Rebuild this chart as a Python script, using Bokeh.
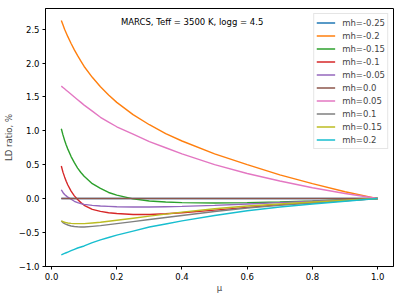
from bokeh.plotting import figure
from bokeh.models import Range1d, Legend, LegendItem, Label, CustomJSTickFormatter, FixedTicker
from bokeh.embed import file_html
from bokeh.resources import INLINE

mu = [0.03, 0.035, 0.04, 0.045, 0.05, 0.06, 0.07, 0.08, 0.09, 0.1, 0.125, 0.15, 0.175,
      0.2, 0.25, 0.3, 0.35, 0.4, 0.5, 0.6, 0.7, 0.8, 0.9, 1.0]

mh_labels = ["mh=-0.25", "mh=-0.2", "mh=-0.15", "mh=-0.1", "mh=-0.05",
             "mh=0.0", "mh=0.05", "mh=0.1", "mh=0.15", "mh=0.2"]

mh_m025 = [0.0] * 24
mh_m020 = [2.63, 2.565, 2.50, 2.445, 2.39, 2.29, 2.195, 2.11, 2.03, 1.95, 1.79, 1.65, 1.53,
           1.42, 1.24, 1.09, 0.96, 0.85, 0.66, 0.50, 0.35, 0.22, 0.10, 0.0]
mh_m015 = [1.03, 0.94, 0.86, 0.79, 0.73, 0.62, 0.53, 0.45, 0.385, 0.33, 0.22, 0.15, 0.09,
           0.05, -0.005, -0.035, -0.05, -0.06, -0.065, -0.06, -0.05, -0.035, -0.018, 0.0]
mh_m010 = [0.48, 0.39, 0.32, 0.255, 0.20, 0.11, 0.04, -0.015, -0.06, -0.10, -0.16, -0.19, -0.21,
           -0.22, -0.235, -0.235, -0.225, -0.21, -0.17, -0.13, -0.09, -0.06, -0.03, 0.0]
mh_m005 = [0.13, 0.09, 0.06, 0.04, 0.02, -0.01, -0.04, -0.06, -0.075, -0.085, -0.10, -0.11, -0.115,
           -0.12, -0.125, -0.125, -0.12, -0.115, -0.10, -0.08, -0.06, -0.04, -0.02, 0.0]
mh_p000 = [0.0] * 24
mh_p005 = [1.66, 1.64, 1.62, 1.60, 1.58, 1.54, 1.50, 1.46, 1.42, 1.38, 1.29, 1.20, 1.13,
           1.06, 0.95, 0.84, 0.75, 0.66, 0.50, 0.37, 0.26, 0.16, 0.075, 0.0]
mh_p010 = [-0.33, -0.355, -0.37, -0.38, -0.39, -0.405, -0.412, -0.417, -0.42, -0.42, -0.41, -0.40, -0.385,
           -0.37, -0.34, -0.31, -0.28, -0.25, -0.19, -0.14, -0.10, -0.065, -0.032, 0.0]
mh_p015 = [-0.33, -0.34, -0.35, -0.355, -0.36, -0.367, -0.37, -0.37, -0.37, -0.37, -0.36, -0.35, -0.335,
           -0.32, -0.29, -0.26, -0.23, -0.20, -0.15, -0.11, -0.08, -0.05, -0.025, 0.0]
mh_p020 = [-0.83, -0.82, -0.81, -0.80, -0.79, -0.77, -0.75, -0.73, -0.715, -0.70, -0.65, -0.61, -0.575,
           -0.54, -0.48, -0.42, -0.375, -0.33, -0.25, -0.18, -0.125, -0.08, -0.04, 0.0]

series = [mh_m025, mh_m020, mh_m015, mh_m010, mh_m005, mh_p000, mh_p005, mh_p010, mh_p015, mh_p020]
colors = ["#1f77b4", "#ff7f0e", "#2ca02c", "#d62728", "#9467bd",
          "#8c564b", "#e377c2", "#7f7f7f", "#bcbd22", "#17becf"]

x_ticks = [0.0, 0.2, 0.4, 0.6, 0.8, 1.0]
y_ticks = [-1.0, -0.5, 0.0, 0.5, 1.0, 1.5, 2.0, 2.5]

FONT = "DejaVu Sans"
FS = "8.5px"

p = figure(frame_width=348, frame_height=258, output_backend="svg", toolbar_location=None,
           x_range=Range1d(-0.0185, 1.0485), y_range=Range1d(-1.003, 2.806),
           min_border_left=45, min_border_right=1, min_border_top=8, min_border_bottom=28)

items = []
for lab, ys, c in zip(mh_labels, series, colors):
    r = p.line(mu, ys, line_color=c, line_width=1.4)
    items.append(LegendItem(label=lab, renderers=[r]))

legend = Legend(items=items, location="top_right")
legend.label_text_font = FONT
legend.label_text_font_size = FS
legend.label_height = 13
legend.glyph_height = 13
legend.glyph_width = 19
legend.label_standoff = 7
legend.spacing = 0
legend.padding = 2
legend.margin = 5
legend.border_line_color = "#cccccc"
legend.background_fill_alpha = 0.8
p.add_layout(legend)

p.add_layout(Label(x=0.431, y=2.60, text="MARCS, Teff = 3500 K, logg = 4.5",
                   text_font=FONT, text_font_size=FS, text_align="center",
                   text_baseline="middle", text_color="#000000"))

p.xgrid.visible = False
p.ygrid.visible = False
p.outline_line_color = "#000000"
p.outline_line_width = 1
p.outline_line_alpha = 1

fmt = CustomJSTickFormatter(code="return tick.toFixed(1).replace('-', '\u2212');")
for ax, ticks in ((p.xaxis[0], x_ticks), (p.yaxis[0], y_ticks)):
    ax.ticker = FixedTicker(ticks=ticks)
    ax.formatter = fmt
    ax.major_label_text_font = FONT
    ax.major_label_text_font_size = FS
    ax.major_label_text_color = "#000000"
    ax.axis_label_text_font = FONT
    ax.axis_label_text_font_size = FS
    ax.axis_label_text_font_style = "normal"
    ax.axis_line_color = "#000000"
    ax.major_tick_line_color = "#000000"
    ax.major_tick_out = 3
    ax.major_tick_in = 0
    ax.minor_tick_line_color = None
    ax.major_label_standoff = 3

p.xaxis.axis_label = "\u03bc"
p.yaxis.axis_label = "LD ratio, %"
p.xaxis.axis_label_standoff = 0
p.yaxis.axis_label_standoff = 2

open("out.html", "w").write(file_html(p, INLINE))
